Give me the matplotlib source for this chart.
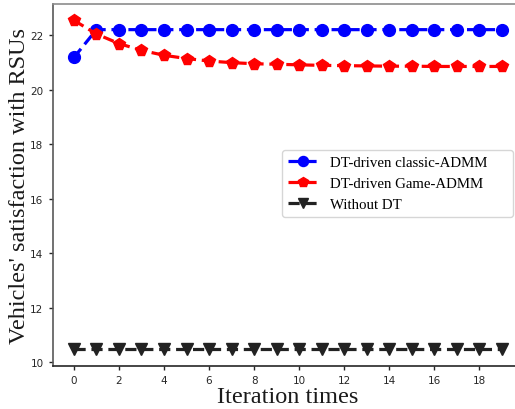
import matplotlib
matplotlib.use("Agg")
import matplotlib.pyplot as plt
import numpy as np

iterations = list(range(20))
classic_admm = [21.18] + [22.2] * 19
game_admm = [22.54, 22.04, 21.69, 21.44, 21.26, 21.14, 21.05, 20.99, 20.95, 20.93,
             20.91, 20.89, 20.88, 20.87, 20.86, 20.86, 20.85, 20.85, 20.85, 20.85]
without_dt = [10.47] * 20
labels = ["DT-driven classic-ADMM", "DT-driven Game-ADMM", "Without DT"]

serif = ["Liberation Serif", "DejaVu Serif"]

fig = plt.figure(figsize=(5.15, 4.10), dpi=100)
ax = fig.add_axes([0.102, 0.105, 0.914, 0.883])

ax.plot(iterations, classic_admm, color="blue", linestyle="--", linewidth=2.3,
        marker="o", markersize=8.5, dashes=(3.5, 1.8), label=labels[0])
ax.plot(iterations, game_admm, color="red", linestyle="--", linewidth=2.3,
        marker="p", markersize=8.5, dashes=(3.5, 1.8), label=labels[1])
ax.plot(iterations, without_dt, color="#222222", linestyle="--", linewidth=2.3,
        marker="v", markersize=8.5, dashes=(3.5, 1.8), label=labels[2])

ax.set_xticks(range(0, 20, 2))
ax.set_yticks(range(10, 23, 2))
ax.tick_params(axis="both", labelsize=7.5, colors="0.15", length=3, width=1)

ax.spines["top"].set_color("0.55")
ax.spines["right"].set_visible(False)
ax.spines["left"].set_color("0.35")
ax.spines["bottom"].set_color("0.15")
for s in ax.spines.values():
    s.set_linewidth(1.2)

ax.set_xlabel("Iteration times", fontsize=17.5, family=serif, color="0.1", labelpad=1)
ax.set_ylabel("Vehicles' satisfaction with RSUs", fontsize=17.5, family=serif, color="0.1", labelpad=0.5)

leg = ax.legend(loc="upper left", bbox_to_anchor=(0.4876, 0.5967, 0.4908, 0), mode="expand",
                borderaxespad=0, prop={"family": serif, "size": 10.7},
                frameon=True, fancybox=True, edgecolor="0.8", handlelength=2.0,
                markerscale=0.85)

fig.savefig("out.png", dpi=100)
